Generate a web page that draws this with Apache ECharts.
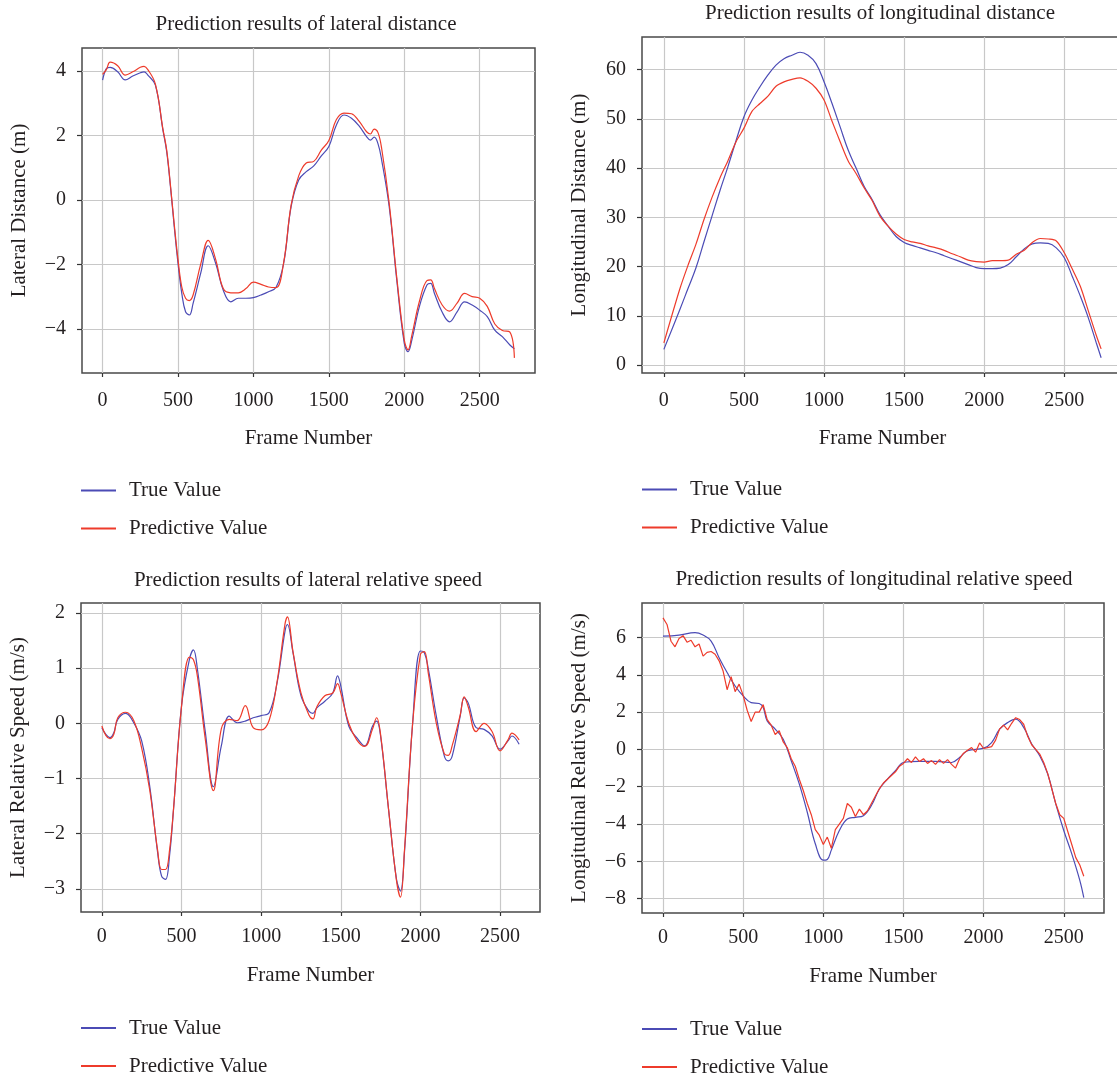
<!DOCTYPE html>
<html lang="en">
<head>
    <meta charset="UTF-8">
    <title>Prediction results</title>
    <script src="https://cdn.jsdelivr.net/npm/echarts/dist/echarts.min.js"></script>
    <style>
        html, body { margin: 0; padding: 0; background: #fff; overflow: hidden; }
        #main { width: 1125px; height: 1110px; }
    </style>
</head>
<body>
    <div id="main"></div>
    <script>
        // ---- values ----
        let frameTicks = [0, 500, 1000, 1500, 2000, 2500];

        // lateral distance
        let latDistFrames = [0, 25, 50, 100, 150, 200, 250, 275, 300, 350,
            400, 425, 450, 475, 500, 525, 550, 575, 600, 650,
            700, 750, 800, 850, 900, 950, 1000, 1050, 1100, 1150,
            1200, 1250, 1300, 1350, 1400, 1450, 1500, 1550, 1600, 1650,
            1700, 1750, 1775, 1800, 1825, 1850, 1900, 1950, 2000, 2025,
            2050, 2100, 2150, 2175, 2200, 2250, 2300, 2350, 2400, 2450,
            2500, 2550, 2600, 2650, 2700, 2730];
        let latDistTrue = [3.72, 4.08, 4.12, 3.98, 3.73, 3.85, 3.95, 3.98, 3.88, 3.57,
            2.17, 1.5, 0.41, -0.83, -1.97, -2.9, -3.47, -3.57, -3.21, -2.28,
            -1.42, -1.97, -2.8, -3.16, -3.05, -3.05, -3.03, -2.95, -2.85, -2.71,
            -1.97, -0.2, 0.62, 0.88, 1.06, 1.37, 1.66, 2.33, 2.64, 2.54,
            2.3, 1.97, 1.86, 1.95, 1.76, 1.24, -0.21, -2.48, -4.45, -4.71,
            -4.35, -3.31, -2.64, -2.59, -2.9, -3.47, -3.78, -3.47, -3.16, -3.26,
            -3.42, -3.62, -4.04, -4.24, -4.5, -4.62];
        let latDistPred = [3.9, 4.05, 4.28, 4.17, 3.88, 3.98, 4.12, 4.15, 4.05, 3.6,
            2.2, 1.55, 0.45, -0.75, -1.85, -2.7, -3.05, -3.12, -2.95, -2.0,
            -1.25, -1.85, -2.75, -2.88, -2.88, -2.75, -2.55, -2.62, -2.7, -2.72,
            -1.95, -0.15, 0.75, 1.15, 1.2, 1.55, 1.85, 2.5, 2.7, 2.68,
            2.45, 2.12, 2.05, 2.2, 2.1, 1.6, -0.1, -2.4, -4.35, -4.65,
            -4.2, -3.15, -2.5, -2.48, -2.75, -3.25, -3.45, -3.2, -2.9, -3.0,
            -3.05, -3.3, -3.85, -4.05, -4.1, -4.9];
        let latDistTicks = [-4, -2, 0, 2, 4];

        // longitudinal distance
        let lonDistFrames = [0, 100, 150, 200, 250, 300, 350, 400, 450, 500,
            550, 600, 650, 700, 750, 800, 850, 900, 950, 1000,
            1050, 1100, 1150, 1200, 1250, 1300, 1350, 1400, 1450, 1500,
            1550, 1600, 1650, 1700, 1750, 1800, 1850, 1900, 1950, 2000,
            2050, 2100, 2150, 2200, 2250, 2300, 2350, 2400, 2450, 2500,
            2550, 2600, 2650, 2700, 2730];
        let lonDistTrue = [3.2, 11.3, 15.5, 19.7, 25, 30.2, 35.4, 40.3, 45.5, 50.4,
            53.8, 56.5, 58.9, 60.9, 62.2, 62.9, 63.5, 62.9, 61.2, 57.5,
            53.1, 48.4, 43.7, 40.0, 36.3, 33.6, 30.5, 28.2, 26.1, 24.9,
            24.3, 23.8, 23.3, 22.8, 22.2, 21.6, 21.0, 20.4, 19.8, 19.6,
            19.6, 19.7, 20.4, 22.0, 23.6, 24.6, 24.8, 24.7, 23.8, 21.8,
            18.0, 14.0, 9.6, 4.5, 1.5];
        let lonDistPred = [4.5, 15.5, 20.2, 24.5, 29.5, 34, 38, 41.5, 45.3, 48.1,
            51.5, 53.1, 54.6, 56.6, 57.5, 58, 58.3, 57.6, 56.2, 53.8,
            49.5, 45.4, 41.5, 38.9, 36, 33.4, 30.2, 28.2, 26.6, 25.5,
            25, 24.7, 24.2, 23.8, 23.3, 22.6, 22.0, 21.3, 21.0, 20.9,
            21.2, 21.2, 21.3, 22.5, 23.3, 24.9, 25.7, 25.6, 25.2, 22.8,
            19.5, 16, 11, 6, 3.3];
        let lonDistTicks = [0, 10, 20, 30, 40, 50, 60];

        // lateral relative speed
        let latSpdFrames = [0, 25, 50, 75, 100, 150, 200, 250, 300, 350,
            375, 400, 425, 450, 500, 550, 575, 600, 650, 700,
            750, 800, 850, 900, 950, 1000, 1050, 1100, 1150, 1165,
            1200, 1250, 1300, 1325, 1350, 1400, 1450, 1480, 1500, 1550,
            1600, 1650, 1700, 1725, 1750, 1800, 1850, 1875, 1900, 1950,
            2000, 2025, 2050, 2100, 2150, 2175, 2200, 2250, 2275, 2300,
            2350, 2400, 2450, 2500, 2550, 2575, 2620];
        let latSpdTrue = [-0.08, -0.2, -0.26, -0.17, 0.07, 0.18, 0.01, -0.32, -1.13, -2.34,
            -2.77, -2.83, -2.4, -1.56, 0.31, 1.16, 1.33, 0.98, -0.17, -1.15,
            -0.41, 0.13, 0.01, 0.04, 0.1, 0.14, 0.19, 0.73, 1.67, 1.79,
            1.28, 0.5, 0.22, 0.18, 0.28, 0.4, 0.55, 0.86, 0.68, -0.05,
            -0.26, -0.41, -0.05, 0.04, -0.23, -1.56, -2.83, -3.04, -2.34, -0.05,
            1.31, 1.28, 0.98, 0.13, -0.59, -0.68, -0.59, 0.13, 0.46, 0.37,
            -0.08, -0.11, -0.23, -0.47, -0.32, -0.23, -0.38];
        let latSpdPred = [-0.05, -0.22, -0.28, -0.2, 0.1, 0.2, 0.05, -0.45, -1.2, -2.3,
            -2.65, -2.65, -2.3, -1.55, 0.3, 1.2, 1.15, 0.85, -0.3, -1.22,
            -0.1, 0.07, 0.05, 0.32, -0.08, -0.12, 0.05, 0.75, 1.8, 1.93,
            1.3, 0.55, 0.15, 0.08, 0.3, 0.5, 0.55, 0.72, 0.55, 0.0,
            -0.3, -0.42, -0.1, 0.1, -0.2, -1.55, -2.85, -3.15, -2.3, -0.05,
            1.25, 1.3, 0.9, 0.0, -0.55, -0.58, -0.4, 0.15, 0.48, 0.3,
            -0.15, 0.0, -0.15, -0.5, -0.3, -0.18, -0.3];
        let latSpdTicks = [-3, -2, -1, 0, 1, 2];

        // longitudinal relative speed
        let lonSpdTrueFrames = [0, 100, 200, 250, 300, 350, 400, 450, 500, 550,
            600, 625, 650, 700, 750, 800, 850, 900, 950, 1000,
            1025, 1050, 1100, 1150, 1200, 1250, 1300, 1350, 1400, 1450,
            1500, 1600, 1700, 1800, 1850, 1900, 2000, 2050, 2100, 2150,
            2200, 2250, 2300, 2350, 2400, 2450, 2500, 2550, 2600, 2625];
        let lonSpdTrue = [6.07, 6.13, 6.26, 6.13, 5.81, 4.92, 4.12, 3.4, 2.87, 2.51,
            2.46, 2.25, 1.53, 1.09, 0.55, -0.61, -1.85, -3.37, -5.06, -5.94,
            -5.9, -5.4, -4.35, -3.73, -3.64, -3.55, -3.01, -2.12, -1.59, -1.14,
            -0.7, -0.64, -0.64, -0.7, -0.43, -0.07, 0.07, 0.37, 1.09, 1.44,
            1.62, 1.18, 0.29, -0.34, -1.32, -2.92, -4.35, -5.6, -7.02, -7.95];
        let lonSpdPredFrames = [0, 25, 50, 75, 100, 125, 150, 175, 200, 225,
            250, 275, 300, 325, 350, 375, 400, 425, 450, 475,
            500, 525, 550, 575, 600, 625, 650, 675, 700, 725,
            750, 775, 800, 825, 850, 875, 900, 925, 950, 975,
            1000, 1025, 1050, 1075, 1100, 1125, 1150, 1175, 1200, 1225,
            1250, 1275, 1300, 1325, 1350, 1375, 1400, 1425, 1450, 1475,
            1500, 1525, 1550, 1575, 1600, 1625, 1650, 1675, 1700, 1725,
            1750, 1775, 1800, 1825, 1850, 1875, 1900, 1925, 1950, 1975,
            2000, 2025, 2050, 2075, 2100, 2125, 2150, 2175, 2200, 2225,
            2250, 2275, 2300, 2325, 2350, 2375, 2400, 2425, 2450, 2475,
            2500, 2525, 2550, 2575, 2600, 2625];
        let lonSpdPred = [7.05, 6.7, 5.8, 5.5, 5.95, 6.1, 5.75, 5.85, 5.5, 5.65,
            5.0, 5.2, 5.25, 5.1, 4.75, 4.2, 3.2, 3.9, 3.1, 3.5,
            2.9, 2.1, 1.5, 2.0, 2.0, 2.4, 1.6, 1.3, 0.8, 1.0,
            0.4, 0.1, -0.5, -0.9, -1.6, -2.2, -2.9, -3.5, -4.3, -4.6,
            -5.1, -4.7, -5.3, -4.3, -4.0, -3.7, -2.9, -3.1, -3.6, -3.2,
            -3.5, -3.3, -2.9, -2.5, -2.1, -1.8, -1.6, -1.4, -1.2, -0.9,
            -0.75, -0.5, -0.7, -0.4, -0.65, -0.5, -0.75, -0.6, -0.8, -0.55,
            -0.75, -0.55, -0.8, -1.0, -0.5, -0.2, -0.05, 0.1, -0.15, 0.35,
            0.05, 0.1, 0.15, 0.5, 1.1, 1.3, 1.05, 1.4, 1.7, 1.6,
            1.35, 0.7, 0.25, 0.0, -0.25, -0.7, -1.3, -2.1, -2.9, -3.5,
            -3.7, -4.4, -5.1, -5.8, -6.2, -6.8];
        let lonSpdTicks = [-8, -6, -4, -2, 0, 2, 4, 6];

        let FONT = 'Liberation Serif';
        let INK = '#231f20';
        let BLUE = '#4b4bb5';
        let RED = '#ee3b2b';

        function zip(xs, ys) {
            return xs.map(function (x, i) { return [x, ys[i]]; });
        }

        function minus(v) {
            return v < 0 ? '\u2212' + Math.abs(v) : String(v);
        }

        function xAxis(idx, min, max, labelMargin, nameGap) {
            return {
                type: 'value', gridIndex: idx, min: min, max: max,
                name: 'Frame Number', nameLocation: 'middle', nameGap: nameGap,
                nameTextStyle: { fontFamily: FONT, fontSize: 21, color: INK },
                axisLine: { show: false, onZero: false },
                axisTick: { show: true, length: 4, customValues: frameTicks, lineStyle: { color: '#333', width: 1.2 } },
                axisLabel: { customValues: frameTicks, margin: labelMargin, fontFamily: FONT, fontSize: 20, color: INK, formatter: minus },
                splitLine: { show: true, lineStyle: { color: '#c8c8c8', width: 1.2 } }
            };
        }

        function yAxis(idx, min, max, ticks, name) {
            return {
                type: 'value', gridIndex: idx, min: min, max: max,
                name: name, nameLocation: 'middle', nameGap: 52,
                nameTextStyle: { fontFamily: FONT, fontSize: 21, color: INK },
                axisLine: { show: false, onZero: false },
                axisTick: { show: true, length: 5, customValues: ticks, lineStyle: { color: '#333', width: 1.2 } },
                axisLabel: { customValues: ticks, margin: 16, fontFamily: FONT, fontSize: 20, color: INK, formatter: minus },
                splitLine: { show: true, lineStyle: { color: '#c8c8c8', width: 1.2 } }
            };
        }

        function line(idx, name, data, color, smooth) {
            return {
                name: name, type: 'line', xAxisIndex: idx, yAxisIndex: idx,
                data: data, symbol: 'none', smooth: smooth,
                color: color, lineStyle: { color: color, width: 1.2 }
            };
        }

        function legend(left, top) {
            return {
                left: left, top: top, orient: 'vertical', itemGap: 17, padding: 0,
                itemWidth: 35, itemHeight: 2, icon: 'rect',
                data: ['True Value', 'Predictive Value'],
                textStyle: { fontFamily: FONT, fontSize: 21, color: INK, padding: [0, 0, 0, 8] }
            };
        }

        function title(text, left, top) {
            return {
                text: text, left: left, top: top, textAlign: 'center', padding: 0,
                textStyle: { fontFamily: FONT, fontSize: 21, fontWeight: 'normal', color: INK }
            };
        }

        let gridStyle = { show: true, borderColor: '#4a4a4a', borderWidth: 1.5, outerBoundsMode: 'none' };

        let chart = echarts.init(document.getElementById('main'));
        chart.setOption({
            animation: false,
            backgroundColor: '#fff',
            title: [
                title('Prediction results of lateral distance', 306, 13.5),
                title('Prediction results of longitudinal distance', 880, 3),
                title('Prediction results of lateral relative speed', 308, 569.5),
                title('Prediction results of longitudinal relative speed', 874, 569)
            ],
            legend: [legend(81, 480), legend(642, 479), legend(81, 1017.5), legend(642, 1018.5)],
            grid: [
                Object.assign({ left: 82, top: 48, width: 453, height: 325 }, gridStyle),
                Object.assign({ left: 642, top: 37, width: 481, height: 336 }, gridStyle),
                Object.assign({ left: 81, top: 603, width: 459, height: 309 }, gridStyle),
                Object.assign({ left: 642, top: 603, width: 462, height: 310 }, gridStyle)
            ],
            xAxis: [
                xAxis(0, -136.5, 2866.5, 18, 55),
                xAxis(1, -136.5, 2866.5, 18, 55),
                xAxis(2, -131, 2751, 15, 52.5),
                xAxis(3, -131, 2751, 15, 52.5)
            ],
            yAxis: [
                yAxis(0, -5.37, 4.72, latDistTicks, 'Lateral Distance (m)'),
                yAxis(1, -1.6, 66.6, lonDistTicks, 'Longitudinal Distance (m)'),
                yAxis(2, -3.42, 2.18, latSpdTicks, 'Lateral Relative Speed (m/s)'),
                yAxis(3, -8.77, 7.85, lonSpdTicks, 'Longitudinal Relative Speed (m/s)')
            ],
            series: [
                line(0, 'True Value', zip(latDistFrames, latDistTrue), BLUE, 0.4),
                line(0, 'Predictive Value', zip(latDistFrames, latDistPred), RED, 0.4),
                line(1, 'True Value', zip(lonDistFrames, lonDistTrue), BLUE, 0.4),
                line(1, 'Predictive Value', zip(lonDistFrames, lonDistPred), RED, 0.3),
                line(2, 'True Value', zip(latSpdFrames, latSpdTrue), BLUE, 0.4),
                line(2, 'Predictive Value', zip(latSpdFrames, latSpdPred), RED, 0.4),
                line(3, 'True Value', zip(lonSpdTrueFrames, lonSpdTrue), BLUE, 0.4),
                line(3, 'Predictive Value', zip(lonSpdPredFrames, lonSpdPred), RED, false)
            ]
        });
    </script>
</body>
</html>
